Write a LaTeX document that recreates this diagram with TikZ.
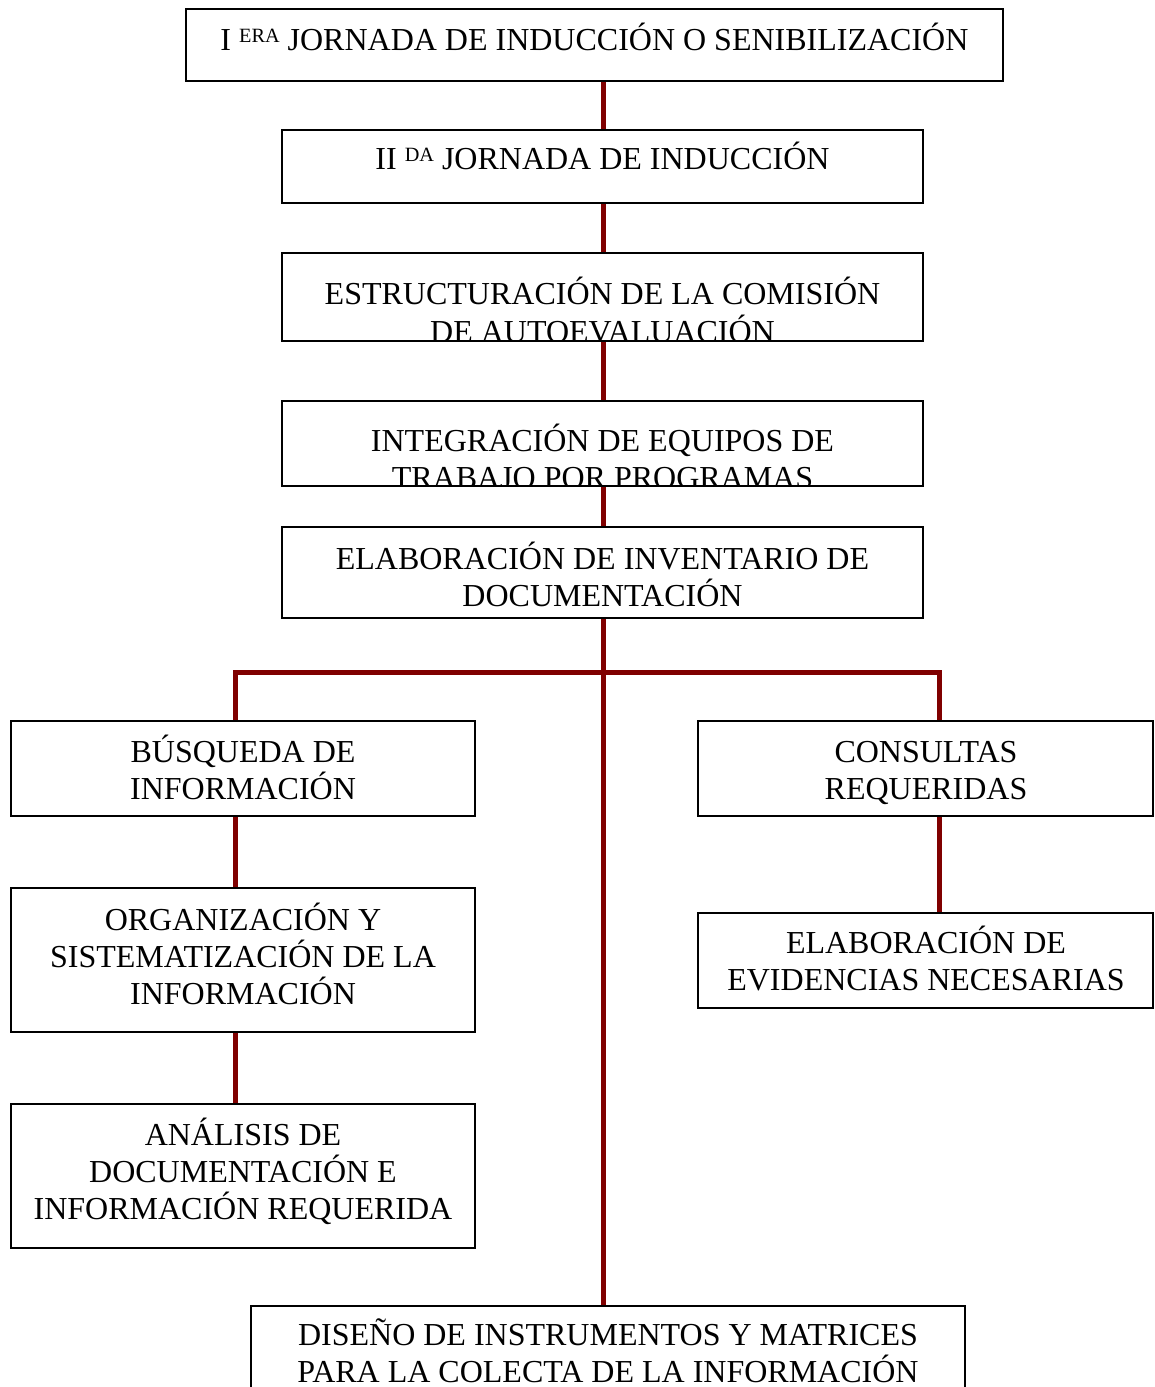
\documentclass[tikz,border=0pt]{standalone}
\usepackage{fontspec}
\setmainfont{Liberation Serif}
\usetikzlibrary{fit,backgrounds}
\definecolor{linkred}{HTML}{800000}
\newcommand{\suptxt}[1]{\raisebox{6.2pt}{\fontsize{15.2pt}{15.2pt}\selectfont #1}}
\begin{document}
\begin{tikzpicture}[x=0.75pt, y=-0.75pt,
  box/.style={draw=black, line width=1.1pt, inner sep=0pt, fill=white},
  txt/.style={font=\fontsize{24pt}{27.75pt}\selectfont, inner sep=0pt, anchor=base},
  link/.style={draw=linkred, line width=3.75pt, line join=miter}]
\useasboundingbox (0,0) rectangle (1155,1387);
\clip (0,0) rectangle (1155,1387);

% guide coordinates for the connector lines
\coordinate (spine) at (603,0);
\coordinate (hL) at (235,672);
\coordinate (hR) at (939,672);

% central column boxes
\node[box, fit={(186,9) (1003,81)}] (b1) {};
\node[box, fit={(282,130) (923,203)}] (b2) {};
\node[box, fit={(282,253) (923,341)}] (b3) {};
\node[box, fit={(282,401) (923,486)}] (b4) {};
\node[box, fit={(282,527) (923,618)}] (b5) {};
% left column
\node[box, fit={(11,721) (475,816)}] (b6) {};
\node[box, fit={(11,888) (475,1032)}] (b8) {};
\node[box, fit={(11,1104) (475,1248)}] (b10) {};
% right column
\node[box, fit={(698,721) (1153,816)}] (b7) {};
\node[box, fit={(698,913) (1153,1008)}] (b9) {};
% bottom
\node[box, fit={(251,1306) (965,1400)}] (b11) {};

% texts
\node[txt] (t1) at (594.5,51) {I \suptxt{ERA} JORNADA DE INDUCCIÓN O SENIBILIZACIÓN};
\node[txt] (t2) at (602.5,170) {II \suptxt{DA} JORNADA DE INDUCCIÓN};
\begin{scope}
  \clip (282,253) rectangle (923,341);
  \node[txt] (t3a) at (602.5,305) {ESTRUCTURACIÓN DE LA COMISIÓN};
  \node[txt] (t3b) at (602.5,342) {DE AUTOEVALUACIÓN};
\end{scope}
\begin{scope}
  \clip (282,401) rectangle (923,486);
  \node[txt] (t4a) at (602.5,451) {INTEGRACIÓN DE EQUIPOS DE};
  \node[txt] (t4b) at (602.5,488) {TRABAJO POR PROGRAMAS};
\end{scope}
\node[txt] (t5a) at (602.5,569) {ELABORACIÓN DE INVENTARIO DE};
\node[txt] (t5b) at (602.5,606) {DOCUMENTACIÓN};

\node[txt] (t6a) at (243,762) {BÚSQUEDA DE};
\node[txt] (t6b) at (243,799) {INFORMACIÓN};
\node[txt] (t8a) at (243,930) {ORGANIZACIÓN Y};
\node[txt] (t8b) at (243,967) {SISTEMATIZACIÓN DE LA};
\node[txt] (t8c) at (243,1004) {INFORMACIÓN};
\node[txt] (t10a) at (243,1145) {ANÁLISIS DE};
\node[txt] (t10b) at (243,1182) {DOCUMENTACIÓN E};
\node[txt] (t10c) at (243,1219) {INFORMACIÓN REQUERIDA};

\node[txt] (t7a) at (926,762) {CONSULTAS};
\node[txt] (t7b) at (926,799) {REQUERIDAS};
\node[txt] (t9a) at (926,953) {ELABORACIÓN DE};
\node[txt] (t9b) at (926,990) {EVIDENCIAS NECESARIAS};

\node[txt] (t11a) at (608,1345) {DISEÑO DE INSTRUMENTOS Y MATRICES};
\node[txt] (t11b) at (608,1382) {PARA LA COLECTA DE LA INFORMACIÓN};

% connectors (behind the boxes)
\begin{pgfonlayer}{background}
  \draw[link] (b1.south -| spine) -- (b2.north -| spine);
  \draw[link] (b2.south -| spine) -- (b3.north -| spine);
  \draw[link] (b3.south -| spine) -- (b4.north -| spine);
  \draw[link] (b4.south -| spine) -- (b5.north -| spine);
  \draw[link] (b5.south -| spine) -- (b11.north -| spine);
  \draw[link] (b6.north -| hL) -- (hL) -- (hR) -- (b7.north -| hR);
  \draw[link] (b6.south -| hL) -- (b8.north -| hL);
  \draw[link] (b8.south -| hL) -- (b10.north -| hL);
  \draw[link] (b7.south -| hR) -- (b9.north -| hR);
\end{pgfonlayer}
\end{tikzpicture}
\end{document}
